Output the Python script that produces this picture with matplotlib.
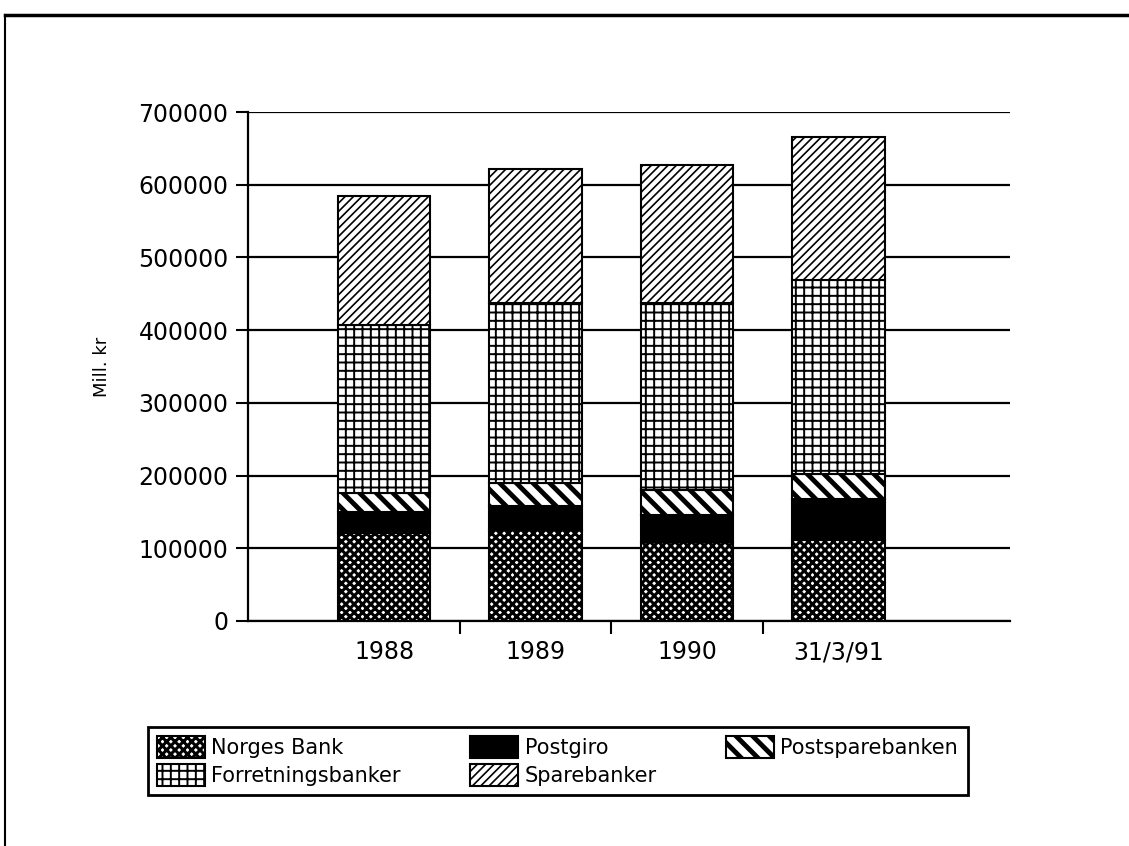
import matplotlib.pyplot as plt
import numpy as np

perioder = ["1988", "1989", "1990", "31/3/91"]
norges_bank = [121000, 125000, 109000, 111000]
postgiro = [29000, 33000, 37000, 57000]
postsparebanken = [26000, 32000, 34000, 34000]
forretningsbanker = [231000, 248000, 257000, 267000]
sparebanker = [177000, 184000, 190000, 197000]

serier = [
    ("Norges Bank", norges_bank, "xxxx", 2.2, "white"),
    ("Postgiro", postgiro, "", 1.0, "black"),
    ("Postsparebanken", postsparebanken, "\\\\", 3.5, "white"),
    ("Forretningsbanker", forretningsbanker, "++", 1.4, "white"),
    ("Sparebanker", sparebanker, "////", 1.2, "white"),
]

plt.rcParams['font.family'] = ['DejaVu Sans']

fig = plt.figure(figsize=(11.29, 8.46), dpi=100)
ax = fig.add_axes([0.2197, 0.2660, 0.6749, 0.6016])

x = np.arange(len(perioder))
bunn = np.zeros(len(perioder))
handles = {}
hlw_map = {}
for navn, verdier, hatch, hlw, farge in serier:
    with plt.rc_context({'hatch.linewidth': hlw}):
        bars = ax.bar(x, verdier, width=0.61, bottom=bunn, color=farge,
                      edgecolor="black", hatch=hatch, linewidth=1.5,
                      label=navn, zorder=3)
        for b in bars:
            if hasattr(b, "set_hatch_linewidth"):
                b.set_hatch_linewidth(hlw)
    handles[navn] = bars
    hlw_map[navn] = hlw
    bunn += np.array(verdier)

ax.set_xlim(-0.897, 4.13)
ax.set_ylim(0, 700000)
ax.set_yticks(np.arange(0, 700001, 100000))
ax.set_yticklabels([str(v) for v in range(0, 700001, 100000)])
ax.yaxis.grid(True, color="black", linewidth=1.6, zorder=1)
ax.set_axisbelow(True)

ax.set_xticks(x)
ax.set_xticklabels(perioder)
ax.set_xticks([0.5, 1.5, 2.5], minor=True)
ax.tick_params(axis="x", which="major", length=0, labelsize=17, pad=14)
ax.tick_params(axis="x", which="minor", length=9, width=1.5, direction="out")
ax.tick_params(axis="y", length=9, width=1.5, labelsize=17, pad=5)

for s in ["top", "right"]:
    ax.spines[s].set_visible(False)
ax.spines["left"].set_linewidth(1.6)
ax.spines["bottom"].set_linewidth(1.6)

ax.set_ylabel("Mill. kr", fontsize=13, labelpad=20)

rekkefolge = ["Norges Bank", "Forretningsbanker", "Postgiro", "Sparebanker", "Postsparebanken"]
leg = fig.legend([handles[n] for n in rekkefolge], rekkefolge, ncol=3,
                 loc="upper left", bbox_to_anchor=(0.131, 0.0686, 0.726, 0.072),
                 mode="expand", fontsize=15, frameon=True, fancybox=False,
                 edgecolor="black", framealpha=1, handlelength=2.3, handleheight=1.2,
                 columnspacing=0.5, handletextpad=0.3, borderaxespad=0,
                 borderpad=0.45, labelspacing=0.3)
leg.get_frame().set_linewidth(2.0)
for h, n in zip(leg.legend_handles, rekkefolge):
    if hasattr(h, "set_hatch_linewidth"):
        h.set_hatch_linewidth(hlw_map[n])

# ytre ramme
fig.add_artist(plt.Line2D([0.0045, 0.0045], [0, 0.982], color="black", linewidth=1.5,
                          transform=fig.transFigure))
fig.add_artist(plt.Line2D([0.0045, 1.0], [0.982, 0.982], color="black", linewidth=2.5,
                          transform=fig.transFigure))

fig.savefig("out.png", dpi=100)
